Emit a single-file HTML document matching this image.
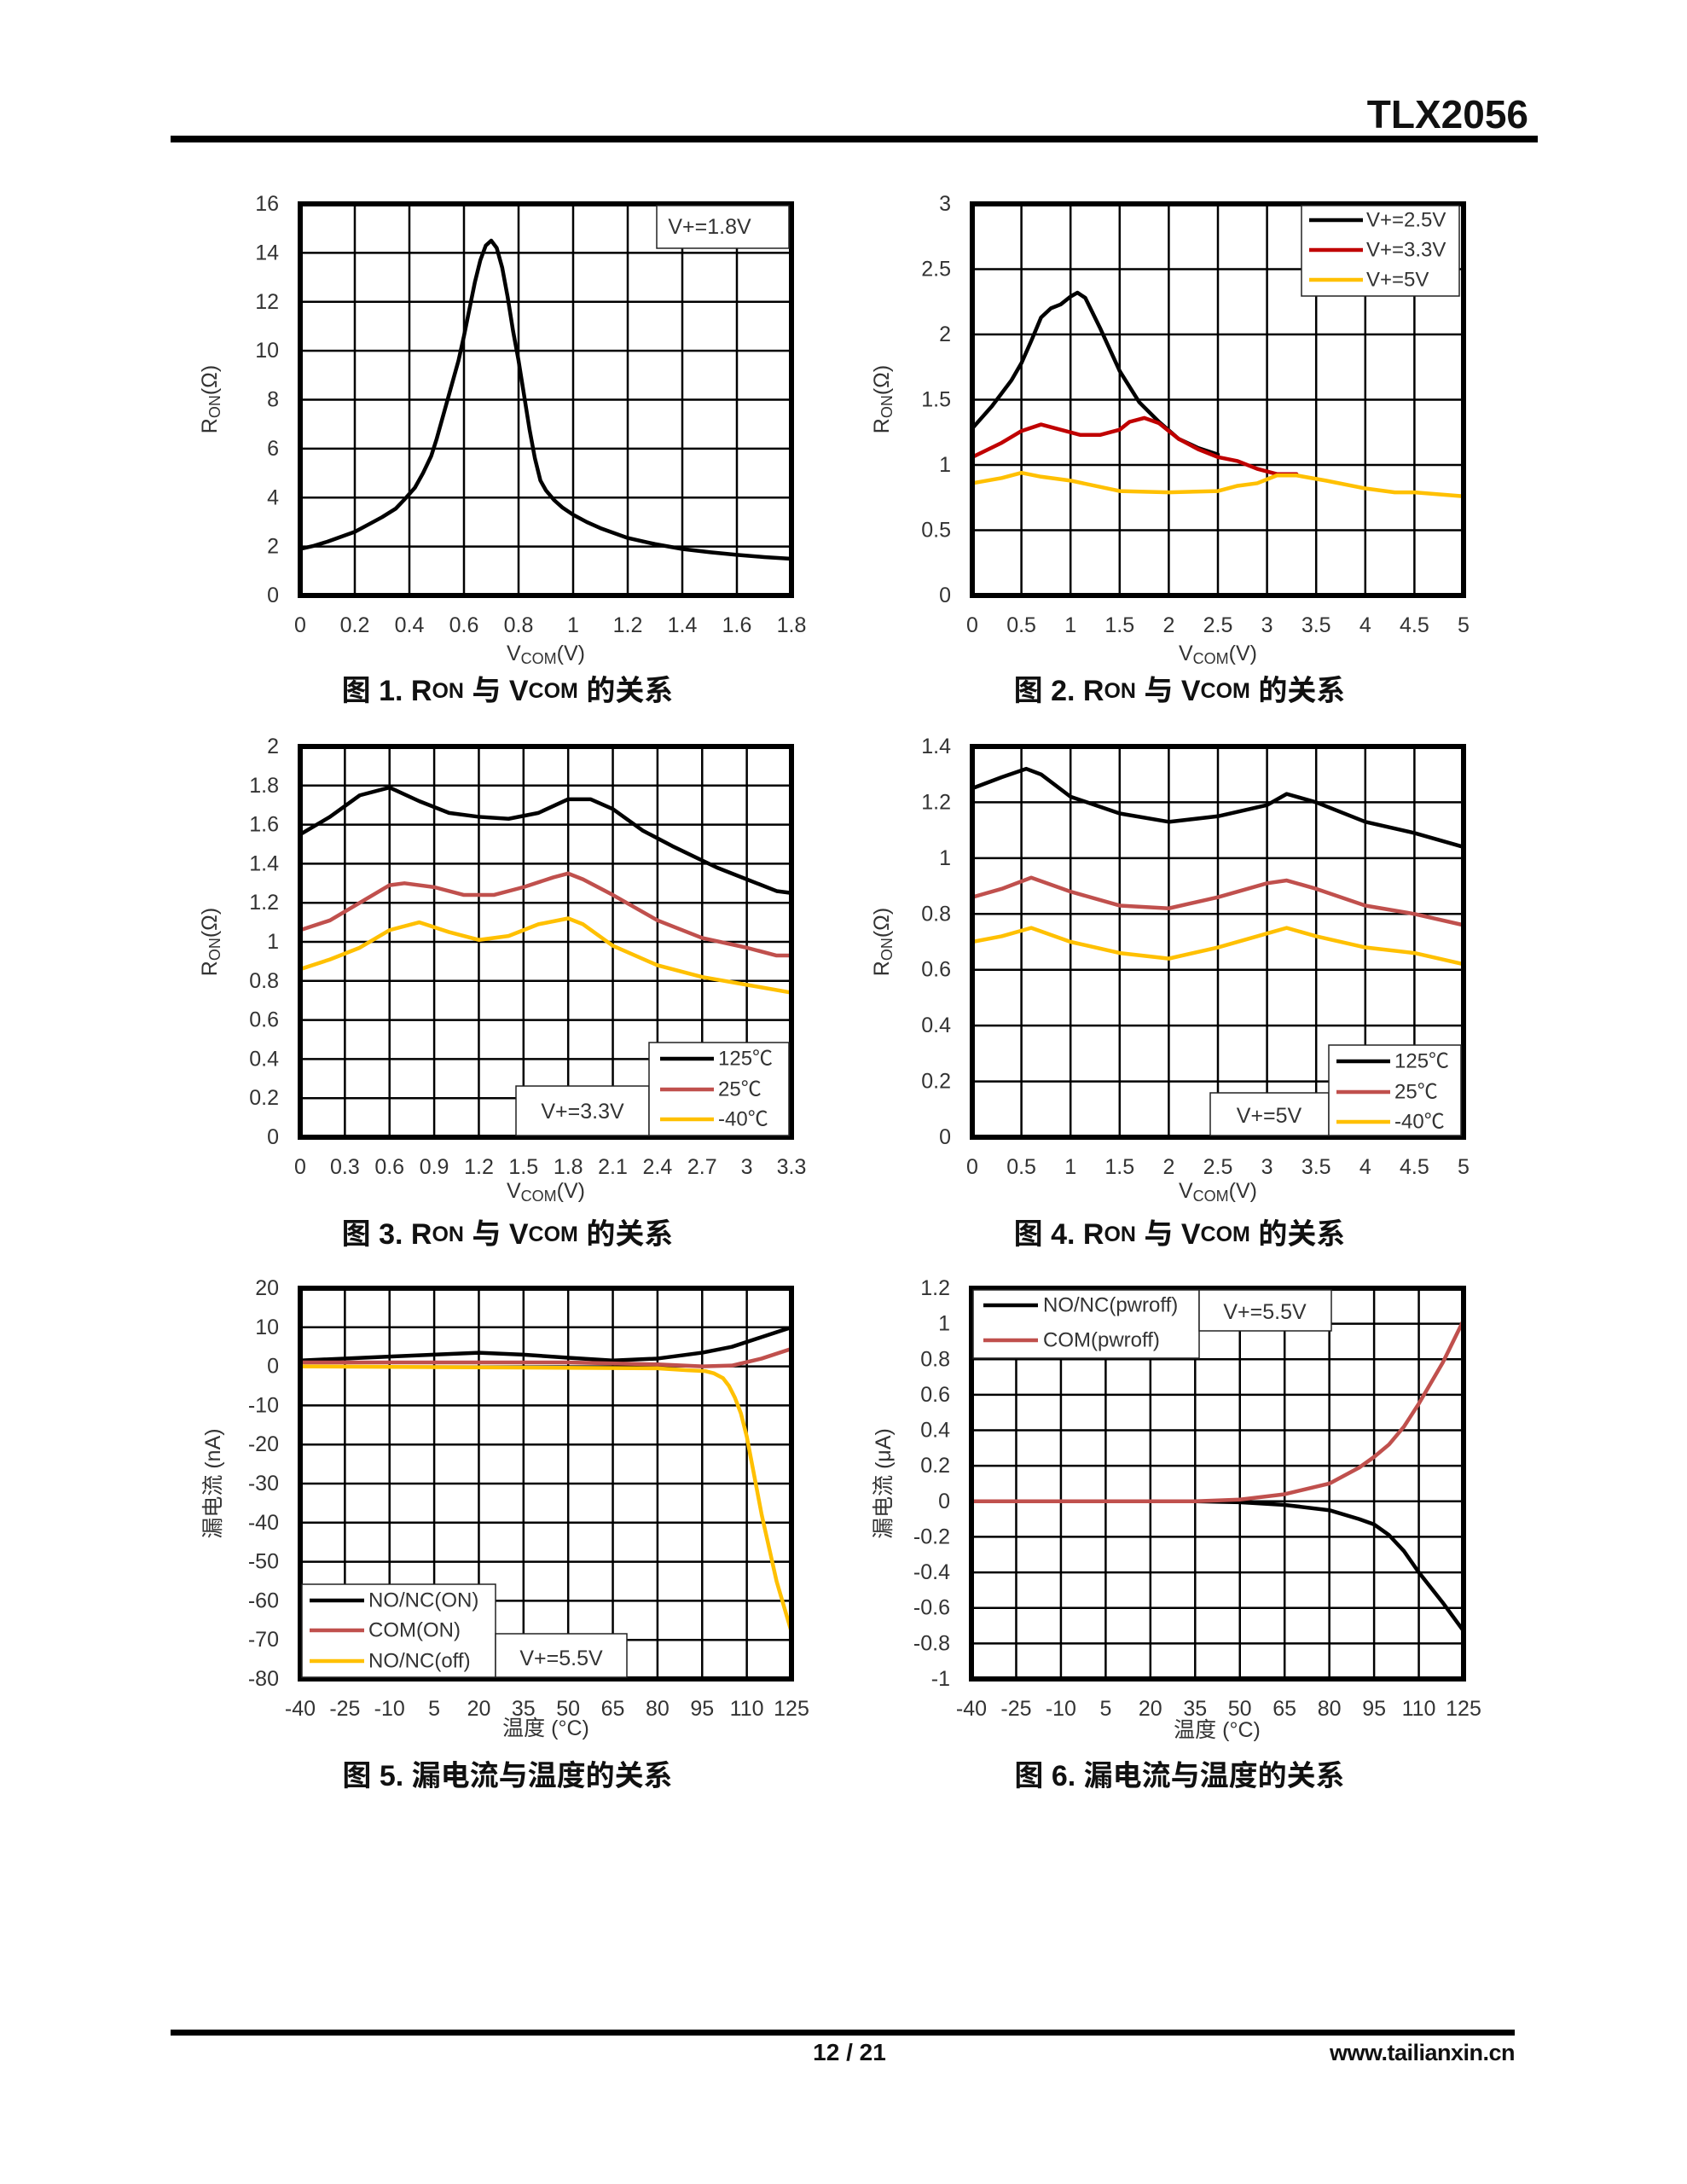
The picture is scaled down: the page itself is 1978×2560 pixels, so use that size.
<!DOCTYPE html>
<html><head><meta charset="utf-8"><style>
html,body{margin:0;padding:0;background:#fff}
svg{display:block}
text{font-family:"Liberation Sans","Noto Sans CJK SC",sans-serif;fill:#333}
.t{font-size:25px}
.yl{text-anchor:end;dominant-baseline:central}
.xl{text-anchor:middle;dominant-baseline:central}
.cap{font-size:34px;font-weight:bold;fill:#111;text-anchor:middle;dominant-baseline:central}
.lg{font-size:24px;dominant-baseline:central}
.g{fill:none;stroke:#000;stroke-width:2.5;vector-effect:non-scaling-stroke}
.c{fill:none;stroke-width:4.5;stroke-linejoin:round;stroke-linecap:round;vector-effect:non-scaling-stroke}
.fr{fill:none;stroke:#000;stroke-width:6}
.bx{fill:#fff;stroke:#222;stroke-width:1.5}
</style></head><body>
<svg width="1978" height="2560" viewBox="0 0 1978 2560" xmlns="http://www.w3.org/2000/svg">
<rect x="200" y="159" width="1603" height="8" fill="#000"/>
<text x="1792" y="150" style="font-size:46px;font-weight:bold;fill:#111;text-anchor:end">TLX2056</text>

<!-- CHART 1 -->
<g transform="translate(352,698) scale(320,-28.6875)">
<path class="g" d="M0.2 0V16M0.4 0V16M0.6 0V16M0.8 0V16M1 0V16M1.2 0V16M1.4 0V16M1.6 0V16M0 2H1.8M0 4H1.8M0 6H1.8M0 8H1.8M0 10H1.8M0 12H1.8M0 14H1.8"/>
<polyline class="c" stroke="#000" points="0,1.9 0.05,2.03 0.1,2.2 0.15,2.4 0.2,2.6 0.25,2.9 0.3,3.2 0.35,3.55 0.38,3.9 0.42,4.4 0.45,5 0.48,5.7 0.5,6.4 0.53,7.6 0.55,8.4 0.58,9.6 0.6,10.6 0.62,11.7 0.64,12.8 0.66,13.7 0.68,14.3 0.7,14.5 0.72,14.2 0.74,13.4 0.76,12.2 0.78,10.8 0.8,9.6 0.82,8.2 0.84,6.8 0.86,5.6 0.88,4.7 0.9,4.3 0.93,3.9 0.96,3.6 1,3.3 1.05,3.0 1.1,2.75 1.15,2.55 1.2,2.35 1.3,2.1 1.4,1.9 1.5,1.77 1.6,1.66 1.7,1.57 1.8,1.5"/>
</g>
<rect class="fr" x="352" y="239" width="576" height="459"/>
<rect class="bx" x="770" y="241" width="155" height="50"/>
<text class="t" x="832" y="266" style="text-anchor:middle;dominant-baseline:central">V+=1.8V</text>
<text class="t yl" x="327" y="698">0</text><text class="t yl" x="327" y="640.6">2</text><text class="t yl" x="327" y="583.3">4</text><text class="t yl" x="327" y="525.9">6</text><text class="t yl" x="327" y="468.5">8</text><text class="t yl" x="327" y="411.1">10</text><text class="t yl" x="327" y="353.8">12</text><text class="t yl" x="327" y="296.4">14</text><text class="t yl" x="327" y="239">16</text>
<text class="t xl" x="352" y="733">0</text><text class="t xl" x="416" y="733">0.2</text><text class="t xl" x="480" y="733">0.4</text><text class="t xl" x="544" y="733">0.6</text><text class="t xl" x="608" y="733">0.8</text><text class="t xl" x="672" y="733">1</text><text class="t xl" x="736" y="733">1.2</text><text class="t xl" x="800" y="733">1.4</text><text class="t xl" x="864" y="733">1.6</text><text class="t xl" x="928" y="733">1.8</text>
<text class="t" x="640" y="766" text-anchor="middle" dominant-baseline="central">V<tspan font-size="18" dy="6">COM</tspan><tspan dy="-6">(V)</tspan></text>
<text class="t" transform="translate(246,468) rotate(-90)" text-anchor="middle" dominant-baseline="central">R<tspan font-size="18" dy="6">ON</tspan><tspan dy="-6">(Ω)</tspan></text>
<text class="cap" x="595" y="810">图 1. R<tspan font-size="25">ON</tspan> 与 V<tspan font-size="25">COM</tspan> 的关系</text>

<!-- CHART 2 -->
<g transform="translate(1140,698) scale(115.2,-153)">
<path class="g" d="M0.5 0V3M1 0V3M1.5 0V3M2 0V3M2.5 0V3M3 0V3M3.5 0V3M4 0V3M4.5 0V3M0 0.5H5M0 1H5M0 1.5H5M0 2H5M0 2.5H5"/>
<polyline class="c" stroke="#000" points="0,1.28 0.2,1.45 0.4,1.65 0.5,1.78 0.6,1.95 0.7,2.13 0.8,2.2 0.9,2.23 1,2.29 1.07,2.32 1.15,2.28 1.3,2.05 1.5,1.72 1.7,1.48 1.9,1.33 2.1,1.2 2.3,1.13 2.5,1.08"/>
<polyline class="c" stroke="#c00000" points="0,1.06 0.3,1.17 0.5,1.26 0.7,1.31 0.85,1.28 1.1,1.23 1.3,1.23 1.5,1.27 1.6,1.33 1.75,1.36 1.9,1.32 2.1,1.2 2.3,1.12 2.5,1.06 2.7,1.03 2.9,0.97 3.1,0.93 3.3,0.93"/>
<polyline class="c" stroke="#ffc000" points="0,0.86 0.3,0.9 0.5,0.94 0.7,0.91 1,0.88 1.5,0.8 2,0.79 2.5,0.8 2.7,0.84 2.9,0.86 3.1,0.92 3.3,0.92 3.6,0.88 4,0.82 4.3,0.79 4.5,0.79 5,0.76"/>
</g>
<rect class="fr" x="1140" y="239" width="576" height="459"/>
<rect class="bx" x="1526" y="241" width="185" height="106"/>
<line x1="1535" y1="258" x2="1598" y2="258" stroke="#000" stroke-width="4.5"/>
<line x1="1535" y1="293" x2="1598" y2="293" stroke="#c00000" stroke-width="4.5"/>
<line x1="1535" y1="328" x2="1598" y2="328" stroke="#ffc000" stroke-width="4.5"/>
<text class="lg" x="1602" y="258">V+=2.5V</text><text class="lg" x="1602" y="293">V+=3.3V</text><text class="lg" x="1602" y="328">V+=5V</text>
<text class="t yl" x="1115" y="698">0</text><text class="t yl" x="1115" y="621.5">0.5</text><text class="t yl" x="1115" y="545">1</text><text class="t yl" x="1115" y="468.5">1.5</text><text class="t yl" x="1115" y="392">2</text><text class="t yl" x="1115" y="315.5">2.5</text><text class="t yl" x="1115" y="239">3</text>
<text class="t xl" x="1140" y="733">0</text><text class="t xl" x="1197.6" y="733">0.5</text><text class="t xl" x="1255.2" y="733">1</text><text class="t xl" x="1312.8" y="733">1.5</text><text class="t xl" x="1370.4" y="733">2</text><text class="t xl" x="1428" y="733">2.5</text><text class="t xl" x="1485.6" y="733">3</text><text class="t xl" x="1543.2" y="733">3.5</text><text class="t xl" x="1600.8" y="733">4</text><text class="t xl" x="1658.4" y="733">4.5</text><text class="t xl" x="1716" y="733">5</text>
<text class="t" x="1428" y="766" text-anchor="middle" dominant-baseline="central">V<tspan font-size="18" dy="6">COM</tspan><tspan dy="-6">(V)</tspan></text>
<text class="t" transform="translate(1034,468) rotate(-90)" text-anchor="middle" dominant-baseline="central">R<tspan font-size="18" dy="6">ON</tspan><tspan dy="-6">(Ω)</tspan></text>
<text class="cap" x="1383" y="810">图 2. R<tspan font-size="25">ON</tspan> 与 V<tspan font-size="25">COM</tspan> 的关系</text>

<!-- CHART 3 -->
<g transform="translate(352,1333) scale(174.545,-229)">
<path class="g" d="M0.3 0V2M0.6 0V2M0.9 0V2M1.2 0V2M1.5 0V2M1.8 0V2M2.1 0V2M2.4 0V2M2.7 0V2M3 0V2M0 0.2H3.3M0 0.4H3.3M0 0.6H3.3M0 0.8H3.3M0 1H3.3M0 1.2H3.3M0 1.4H3.3M0 1.6H3.3M0 1.8H3.3"/>
<polyline class="c" stroke="#000" points="0,1.55 0.2,1.64 0.4,1.75 0.6,1.79 0.8,1.72 1.0,1.66 1.2,1.64 1.4,1.63 1.6,1.66 1.8,1.73 1.95,1.73 2.1,1.68 2.3,1.57 2.5,1.49 2.8,1.38 3.0,1.32 3.2,1.26 3.3,1.25"/>
<polyline class="c" stroke="#c0504d" points="0,1.06 0.2,1.11 0.4,1.2 0.6,1.29 0.7,1.3 0.9,1.28 1.1,1.24 1.3,1.24 1.5,1.28 1.7,1.33 1.8,1.35 1.9,1.32 2.1,1.24 2.4,1.11 2.7,1.02 3.0,0.97 3.2,0.93 3.3,0.93"/>
<polyline class="c" stroke="#ffc000" points="0,0.86 0.2,0.91 0.4,0.97 0.6,1.06 0.8,1.1 1.0,1.05 1.2,1.01 1.4,1.03 1.6,1.09 1.8,1.12 1.9,1.09 2.1,0.98 2.4,0.88 2.7,0.82 3.0,0.78 3.3,0.74"/>
</g>
<rect class="fr" x="352" y="875" width="576" height="458"/>
<rect class="bx" x="605" y="1273" width="156" height="58"/>
<text class="t" x="683" y="1303" text-anchor="middle" dominant-baseline="central">V+=3.3V</text>
<rect class="bx" x="761" y="1222" width="164" height="109"/>
<line x1="774" y1="1241" x2="837" y2="1241" stroke="#000" stroke-width="4.5"/>
<line x1="774" y1="1277" x2="837" y2="1277" stroke="#c0504d" stroke-width="4.5"/>
<line x1="774" y1="1312" x2="837" y2="1312" stroke="#ffc000" stroke-width="4.5"/>
<text class="lg" x="842" y="1241">125℃</text><text class="lg" x="842" y="1277">25℃</text><text class="lg" x="842" y="1312">-40℃</text>
<text class="t yl" x="327" y="1333">0</text><text class="t yl" x="327" y="1287.2">0.2</text><text class="t yl" x="327" y="1241.4">0.4</text><text class="t yl" x="327" y="1195.6">0.6</text><text class="t yl" x="327" y="1149.8">0.8</text><text class="t yl" x="327" y="1104">1</text><text class="t yl" x="327" y="1058.2">1.2</text><text class="t yl" x="327" y="1012.4">1.4</text><text class="t yl" x="327" y="966.6">1.6</text><text class="t yl" x="327" y="920.8">1.8</text><text class="t yl" x="327" y="875">2</text>
<text class="t xl" x="352" y="1368">0</text><text class="t xl" x="404.4" y="1368">0.3</text><text class="t xl" x="456.7" y="1368">0.6</text><text class="t xl" x="509.1" y="1368">0.9</text><text class="t xl" x="561.5" y="1368">1.2</text><text class="t xl" x="613.8" y="1368">1.5</text><text class="t xl" x="666.2" y="1368">1.8</text><text class="t xl" x="718.5" y="1368">2.1</text><text class="t xl" x="770.9" y="1368">2.4</text><text class="t xl" x="823.3" y="1368">2.7</text><text class="t xl" x="875.6" y="1368">3</text><text class="t xl" x="928" y="1368">3.3</text>
<text class="t" x="640" y="1396" text-anchor="middle" dominant-baseline="central">V<tspan font-size="18" dy="6">COM</tspan><tspan dy="-6">(V)</tspan></text>
<text class="t" transform="translate(246,1104) rotate(-90)" text-anchor="middle" dominant-baseline="central">R<tspan font-size="18" dy="6">ON</tspan><tspan dy="-6">(Ω)</tspan></text>
<text class="cap" x="595" y="1447">图 3. R<tspan font-size="25">ON</tspan> 与 V<tspan font-size="25">COM</tspan> 的关系</text>

<!-- CHART 4 -->
<g transform="translate(1140,1333) scale(115.2,-327.14)">
<path class="g" d="M0.5 0V1.4M1 0V1.4M1.5 0V1.4M2 0V1.4M2.5 0V1.4M3 0V1.4M3.5 0V1.4M4 0V1.4M4.5 0V1.4M0 0.2H5M0 0.4H5M0 0.6H5M0 0.8H5M0 1H5M0 1.2H5"/>
<polyline class="c" stroke="#000" points="0,1.25 0.3,1.29 0.55,1.32 0.7,1.3 1,1.22 1.5,1.16 2,1.13 2.5,1.15 3,1.19 3.2,1.23 3.5,1.2 4,1.13 4.5,1.09 5,1.04"/>
<polyline class="c" stroke="#c0504d" points="0,0.86 0.3,0.89 0.6,0.93 1,0.88 1.5,0.83 2,0.82 2.5,0.86 3,0.91 3.2,0.92 3.5,0.89 4,0.83 4.5,0.8 5,0.76"/>
<polyline class="c" stroke="#ffc000" points="0,0.7 0.3,0.72 0.6,0.75 1,0.7 1.5,0.66 2,0.64 2.5,0.68 3,0.73 3.2,0.75 3.5,0.72 4,0.68 4.5,0.66 5,0.62"/>
</g>
<rect class="fr" x="1140" y="875" width="576" height="458"/>
<rect class="bx" x="1419" y="1281" width="139" height="50"/>
<text class="t" x="1488" y="1308" text-anchor="middle" dominant-baseline="central">V+=5V</text>
<rect class="bx" x="1558" y="1225" width="155" height="106"/>
<line x1="1567" y1="1244" x2="1630" y2="1244" stroke="#000" stroke-width="4.5"/>
<line x1="1567" y1="1280" x2="1630" y2="1280" stroke="#c0504d" stroke-width="4.5"/>
<line x1="1567" y1="1315" x2="1630" y2="1315" stroke="#ffc000" stroke-width="4.5"/>
<text class="lg" x="1635" y="1244">125℃</text><text class="lg" x="1635" y="1280">25℃</text><text class="lg" x="1635" y="1315">-40℃</text>
<text class="t yl" x="1115" y="1333">0</text><text class="t yl" x="1115" y="1267.6">0.2</text><text class="t yl" x="1115" y="1202.1">0.4</text><text class="t yl" x="1115" y="1136.7">0.6</text><text class="t yl" x="1115" y="1071.3">0.8</text><text class="t yl" x="1115" y="1005.9">1</text><text class="t yl" x="1115" y="940.4">1.2</text><text class="t yl" x="1115" y="875">1.4</text>
<text class="t xl" x="1140" y="1368">0</text><text class="t xl" x="1197.6" y="1368">0.5</text><text class="t xl" x="1255.2" y="1368">1</text><text class="t xl" x="1312.8" y="1368">1.5</text><text class="t xl" x="1370.4" y="1368">2</text><text class="t xl" x="1428" y="1368">2.5</text><text class="t xl" x="1485.6" y="1368">3</text><text class="t xl" x="1543.2" y="1368">3.5</text><text class="t xl" x="1600.8" y="1368">4</text><text class="t xl" x="1658.4" y="1368">4.5</text><text class="t xl" x="1716" y="1368">5</text>
<text class="t" x="1428" y="1396" text-anchor="middle" dominant-baseline="central">V<tspan font-size="18" dy="6">COM</tspan><tspan dy="-6">(V)</tspan></text>
<text class="t" transform="translate(1034,1104) rotate(-90)" text-anchor="middle" dominant-baseline="central">R<tspan font-size="18" dy="6">ON</tspan><tspan dy="-6">(Ω)</tspan></text>
<text class="cap" x="1383" y="1447">图 4. R<tspan font-size="25">ON</tspan> 与 V<tspan font-size="25">COM</tspan> 的关系</text>

<!-- CHART 5 -->
<g transform="translate(491.64,1601.6) scale(3.4909,-4.58)">
<path class="g" d="M-25 -80V20M-10 -80V20M5 -80V20M20 -80V20M35 -80V20M50 -80V20M65 -80V20M80 -80V20M95 -80V20M110 -80V20M-40 10H125M-40 0H125M-40 -10H125M-40 -20H125M-40 -30H125M-40 -40H125M-40 -50H125M-40 -60H125M-40 -70H125"/>
<polyline class="c" stroke="#000" points="-40,1.5 -10,2.5 20,3.5 35,3 50,2.2 65,1.5 80,2 95,3.5 105,5 115,7.5 125,10"/>
<polyline class="c" stroke="#c0504d" points="-40,1 50,1 80,0.5 95,0 105,0.2 115,2 125,4.5"/>
<polyline class="c" stroke="#ffc000" points="-40,0 80,-0.5 90,-1 96,-1.2 99,-1.8 102,-3 104,-5 106,-8 108,-12 110,-18 112,-26 115,-38 120,-55 125,-68"/>
</g>
<rect class="fr" x="352" y="1510" width="576" height="458"/>
<rect class="bx" x="354" y="1857" width="227" height="109"/>
<line x1="363" y1="1876" x2="427" y2="1876" stroke="#000" stroke-width="4.5"/>
<line x1="363" y1="1911" x2="427" y2="1911" stroke="#c0504d" stroke-width="4.5"/>
<line x1="363" y1="1947" x2="427" y2="1947" stroke="#ffc000" stroke-width="4.5"/>
<text class="lg" x="432" y="1876">NO/NC(ON)</text><text class="lg" x="432" y="1911">COM(ON)</text><text class="lg" x="432" y="1947">NO/NC(off)</text>
<rect class="bx" x="581" y="1915" width="154" height="51"/>
<text class="t" x="658" y="1944" text-anchor="middle" dominant-baseline="central">V+=5.5V</text>
<text class="t yl" x="327" y="1510">20</text><text class="t yl" x="327" y="1555.8">10</text><text class="t yl" x="327" y="1601.6">0</text><text class="t yl" x="327" y="1647.4">-10</text><text class="t yl" x="327" y="1693.2">-20</text><text class="t yl" x="327" y="1739">-30</text><text class="t yl" x="327" y="1784.8">-40</text><text class="t yl" x="327" y="1830.6">-50</text><text class="t yl" x="327" y="1876.4">-60</text><text class="t yl" x="327" y="1922.2">-70</text><text class="t yl" x="327" y="1968">-80</text>
<text class="t xl" x="352" y="2003">-40</text><text class="t xl" x="404.4" y="2003">-25</text><text class="t xl" x="456.7" y="2003">-10</text><text class="t xl" x="509.1" y="2003">5</text><text class="t xl" x="561.5" y="2003">20</text><text class="t xl" x="613.8" y="2003">35</text><text class="t xl" x="666.2" y="2003">50</text><text class="t xl" x="718.5" y="2003">65</text><text class="t xl" x="770.9" y="2003">80</text><text class="t xl" x="823.3" y="2003">95</text><text class="t xl" x="875.6" y="2003">110</text><text class="t xl" x="928" y="2003">125</text>
<text class="t xl" x="640" y="2026">温度 (°C)</text>
<text class="t" transform="translate(250,1739) rotate(-90)" text-anchor="middle" dominant-baseline="central">漏电流 (nA)</text>
<text class="cap" x="595" y="2082">图 5. 漏电流与温度的关系</text>

<!-- CHART 6 -->
<g transform="translate(1278.9,1759.8) scale(3.497,-208.18)">
<path class="g" d="M-25 -1V1.2M-10 -1V1.2M5 -1V1.2M20 -1V1.2M35 -1V1.2M50 -1V1.2M65 -1V1.2M80 -1V1.2M95 -1V1.2M110 -1V1.2M-40 1H125M-40 0.8H125M-40 0.6H125M-40 0.4H125M-40 0.2H125M-40 0H125M-40 -0.2H125M-40 -0.4H125M-40 -0.6H125M-40 -0.8H125"/>
<polyline class="c" stroke="#000" points="-40,0 35,0 50,-0.005 65,-0.02 80,-0.05 90,-0.1 95,-0.13 100,-0.19 105,-0.28 110,-0.4 118,-0.57 125,-0.73"/>
<polyline class="c" stroke="#c0504d" points="-40,0 35,0 50,0.01 65,0.04 80,0.1 90,0.19 95,0.25 100,0.32 105,0.42 110,0.55 118,0.78 125,1.02"/>
</g>
<rect class="fr" x="1139" y="1510" width="577" height="458"/>
<rect class="bx" x="1141" y="1512" width="265" height="80"/>
<line x1="1153" y1="1530" x2="1217" y2="1530" stroke="#000" stroke-width="4.5"/>
<line x1="1153" y1="1571" x2="1217" y2="1571" stroke="#c0504d" stroke-width="4.5"/>
<text class="lg" x="1223" y="1530">NO/NC(pwroff)</text><text class="lg" x="1223" y="1571">COM(pwroff)</text>
<rect class="bx" x="1406" y="1512" width="155" height="48"/>
<text class="t" x="1483" y="1538" text-anchor="middle" dominant-baseline="central">V+=5.5V</text>
<text class="t yl" x="1114" y="1510">1.2</text><text class="t yl" x="1114" y="1551.6">1</text><text class="t yl" x="1114" y="1593.3">0.8</text><text class="t yl" x="1114" y="1634.9">0.6</text><text class="t yl" x="1114" y="1676.5">0.4</text><text class="t yl" x="1114" y="1718.2">0.2</text><text class="t yl" x="1114" y="1759.8">0</text><text class="t yl" x="1114" y="1801.4">-0.2</text><text class="t yl" x="1114" y="1843.1">-0.4</text><text class="t yl" x="1114" y="1884.7">-0.6</text><text class="t yl" x="1114" y="1926.4">-0.8</text><text class="t yl" x="1114" y="1968">-1</text>
<text class="t xl" x="1139" y="2003">-40</text><text class="t xl" x="1191.5" y="2003">-25</text><text class="t xl" x="1243.9" y="2003">-10</text><text class="t xl" x="1296.4" y="2003">5</text><text class="t xl" x="1348.8" y="2003">20</text><text class="t xl" x="1401.3" y="2003">35</text><text class="t xl" x="1453.7" y="2003">50</text><text class="t xl" x="1506.2" y="2003">65</text><text class="t xl" x="1558.6" y="2003">80</text><text class="t xl" x="1611.1" y="2003">95</text><text class="t xl" x="1663.5" y="2003">110</text><text class="t xl" x="1716" y="2003">125</text>
<text class="t xl" x="1427" y="2028">温度 (°C)</text>
<text class="t" transform="translate(1036,1739) rotate(-90)" text-anchor="middle" dominant-baseline="central">漏电流 (μA)</text>
<text class="cap" x="1383" y="2082">图 6. 漏电流与温度的关系</text>

<!-- footer -->
<rect x="200" y="2379" width="1576" height="7" fill="#000"/>
<text x="996" y="2415" style="font-size:28px;font-weight:bold;fill:#111;text-anchor:middle">12 / 21</text>
<text x="1776" y="2415" style="font-size:27px;font-weight:bold;fill:#111;text-anchor:end;letter-spacing:-0.5px">www.tailianxin.cn</text>
</svg>
</body></html>
